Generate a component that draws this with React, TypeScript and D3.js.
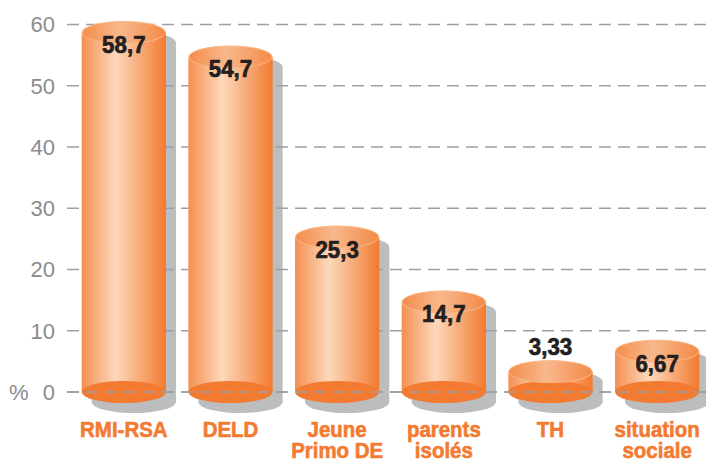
import React from "react";
import * as d3 from "d3";

// data
const categories = ["RMI-RSA", "DELD", "Jeune\nPrimo DE", "parents\nisolés", "TH", "situation\nsociale"];
const values = [58.7, 54.7, 25.3, 14.7, 3.33, 6.67];
const valueLabels = ["58,7", "54,7", "25,3", "14,7", "3,33", "6,67"];
const yTicks = [0, 10, 20, 30, 40, 50, 60];

const W = 706;
const H = 462;
const RY = 11; // ellipse half-height of the cylinder caps
const SHADOW = { dx: 10, dy: 10 };

// no condensed face installed, so squeeze Liberation Sans Bold horizontally
const boldFont = "'Liberation Sans', Arial, sans-serif";

export default function App() {
  const x = d3
    .scaleBand()
    .domain(categories)
    .range([70.5, 710.5])
    .paddingInner(0.21)
    .paddingOuter(0.105);

  const y = d3.scaleLinear().domain([0, 60]).range([392, 24.5]);
  const bw = x.bandwidth();
  const rx = bw / 2;

  const data = categories.map((c, i) => ({ c, v: values[i], label: valueLabels[i] }));

  return (
    <svg
      width={W}
      height={H}
      style={{ position: "absolute", left: 0, top: 0, background: "#fff" }}
    >
      <defs>
        <linearGradient id="body" x1="0" x2="1" y1="0" y2="0">
          <stop offset="0" stopColor="#f38f50" />
          <stop offset="0.4" stopColor="#fdd8bb" />
          <stop offset="0.75" stopColor="#f6a26b" />
          <stop offset="1" stopColor="#f37a2e" />
        </linearGradient>
        <linearGradient id="cap" x1="0" x2="1" y1="0" y2="0">
          <stop offset="0" stopColor="#f48d4c" />
          <stop offset="0.45" stopColor="#f8b88c" />
          <stop offset="1" stopColor="#f48a48" />
        </linearGradient>
      </defs>

      {/* shadows */}
      {data.map((d) => {
        const cx = x(d.c)! + rx + SHADOW.dx;
        const top = y(d.v) + SHADOW.dy;
        const base = y(0) + SHADOW.dy;
        return (
          <g key={"s" + d.c} fill="#bcbdbf">
            <rect x={cx - rx} y={top} width={bw} height={base - top} />
            <ellipse cx={cx} cy={top} rx={rx} ry={RY} />
            <ellipse cx={cx} cy={base} rx={rx} ry={RY} />
          </g>
        );
      })}

      {/* grid lines */}
      {yTicks.map((t) => (
        <line
          key={"g" + t}
          x1={67}
          x2={W}
          y1={y(t)}
          y2={y(t)}
          stroke="#9d9fa2"
          strokeWidth={1.6}
          strokeDasharray="12 7"
        />
      ))}

      {/* cylinders */}
      {data.map((d) => {
        const x0 = x(d.c)!;
        const cx = x0 + rx;
        const top = y(d.v);
        const base = y(0);
        return (
          <g key={"b" + d.c}>
            <rect x={x0} y={top} width={bw} height={base - top} fill="url(#body)" />
            <ellipse cx={cx} cy={base} rx={rx} ry={RY} fill="#f37a31" />
            <ellipse
              cx={cx}
              cy={top}
              rx={rx - 0.5}
              ry={RY}
              fill="url(#cap)"
              stroke="#f9b888"
              strokeWidth={1}
            />
          </g>
        );
      })}

      {/* zero line over the base ellipses */}
      <line
        x1={67}
        x2={W}
        y1={y(0)}
        y2={y(0)}
        stroke="#9d9fa2"
        strokeWidth={1.6}
        strokeDasharray="12 7"
      />

      {/* y tick labels */}
      {yTicks.map((t) => (
        <text
          key={"t" + t}
          x={55}
          y={y(t) + 7.8}
          textAnchor="end"
          fontFamily="'Liberation Sans', Arial, sans-serif"
          fontSize={22}
          fill="#8a8c8e"
        >
          {t}
        </text>
      ))}
      <text
        x={9}
        y={y(0) + 7.8}
        fontFamily="'Liberation Sans', Arial, sans-serif"
        fontSize={22}
        fill="#8a8c8e"
      >
        %
      </text>

      {/* value labels */}
      {data.map((d) => {
        const cx = x(d.c)! + rx;
        const top = y(d.v);
        const yy = d.v < 5 ? top - 17 : top + 20.5;
        return (
          <text
            key={"v" + d.c}
            transform={`translate(${cx},${yy}) scale(0.95,1)`}
            textAnchor="middle"
            fontFamily={boldFont}
            fontWeight="bold"
            fontSize={23.5}
            fill="#231f20"
            stroke="#231f20"
            strokeWidth={0.7}
          >
            {d.label}
          </text>
        );
      })}

      {/* category labels, one text per line */}
      {data.map((d) => {
        const cx = x(d.c)! + rx;
        return d.c.split("\n").map((line, i) => (
          <text
            key={"c" + d.c + i}
            transform={`translate(${cx},${436.5 + i * 21.7}) scale(0.93,1)`}
            textAnchor="middle"
            fontFamily={boldFont}
            fontWeight="bold"
            fontSize={22}
            fill="#f37a31"
            stroke="#f37a31"
            strokeWidth={0.6}
          >
            {line}
          </text>
        ));
      })}
    </svg>
  );
}
